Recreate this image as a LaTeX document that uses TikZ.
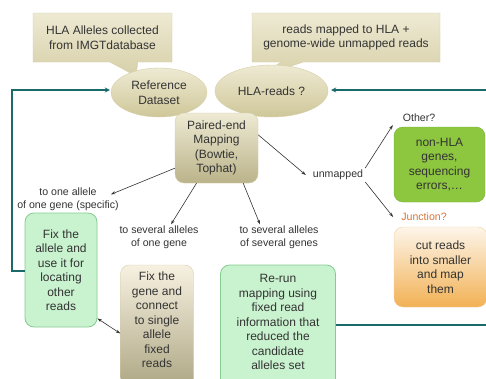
\documentclass[tikz,border=0pt]{standalone}
\usepackage{fontspec}
\setmainfont{Liberation Sans}
\usetikzlibrary{shapes.geometric,shapes.callouts,arrows.meta,calc}
\definecolor{txt}{HTML}{333333}
\definecolor{tanT}{HTML}{EEEAD3}
\definecolor{tanB}{HTML}{CFC799}
\definecolor{tanE}{HTML}{D6CFA8}
\definecolor{grF}{HTML}{C9F2CF}
\definecolor{grE}{HTML}{85CC90}
\definecolor{lime}{HTML}{8DC63F}
\definecolor{limeE}{HTML}{76B030}
\definecolor{orT}{HTML}{FDF5EA}
\definecolor{orB}{HTML}{F2B154}
\definecolor{orE}{HTML}{F3D3A4}
\definecolor{teal}{HTML}{1B6A6A}
\definecolor{junc}{HTML}{D9763A}
\tikzset{
  big/.style={font=\fontsize{12}{14.5}\selectfont, text=txt, align=center},
  lab/.style={font=\fontsize{10.6}{13}\selectfont, text=txt, align=center, inner sep=0pt},
  callbox/.style={rectangle callout, big, draw=tanE, top color=tanT, bottom color=tanB!85, minimum width=139pt, minimum height=49pt, callout pointer width=28pt},
  ell/.style={ellipse, big, draw=tanE, top color=tanT, bottom color=tanB, inner sep=0pt},
  greenbox/.style={rounded corners=9pt, draw=grE, fill=grF, big, line width=0.8pt},
  arr/.style={draw=txt, line width=0.6pt, -{Stealth[length=4.5pt,width=3pt]}},
  tealline/.style={draw=teal, line width=2.4pt},
}
\begin{document}
\begin{tikzpicture}[x=1pt,y=-1pt]
\clip (0,0) rectangle (486,378);
\fill[white] (0,0) rectangle (486,378);
% callouts
\node[callbox, callout absolute pointer={(136,76)}] (hla) at (102.5,37.5) {HLA Alleles collected\\from IMGTdatabase};
\node[callbox, minimum width=188pt, callout absolute pointer={(257,78)}, callout pointer width=22pt] (rmap) at (346,37.5) {reads mapped to HLA +\\genome-wide unmapped reads};
% ellipses
\node[ell, minimum width=96pt, minimum height=49pt] (ref) at (159,92.5) {Reference\\Dataset};
\node[ell, minimum width=113pt, minimum height=52pt] (hlr) at (271.5,91) {HLA-reads ?};
% paired-end
\node[rounded corners=9pt, draw=tanE, top color=tanT, bottom color=tanB!90!black, big, minimum width=83pt, minimum height=70pt] (pe) at (216.5,148) {Paired-end\\Mapping\\(Bowtie,\\Tophat)};
% labels
\node[lab] (one) at (68,199.5) {to one allele\\of one gene (specific)};
\node[lab] (sev1) at (159,237) {to several alleles\\of one gene};
\node[lab] (sev2) at (279,237) {to several alleles\\of several genes};
\node[lab] (unm) at (338,175) {unmapped};
\node[lab] (oth) at (419,118) {Other?};
\node[lab, text=junc] (jun) at (424,217) {Junction?};
% right boxes
\node[rounded corners=9pt, draw=limeE, fill=lime, big, minimum width=91pt, minimum height=75pt] (nonhla) at (439.5,164.5) {non-HLA\\genes,\\sequencing\\errors,\dots};
\node[rounded corners=9pt, draw=orE, top color=orT, bottom color=orB, big, minimum width=93pt, minimum height=80pt] (cut) at (440.5,267) {cut reads\\into smaller\\and map\\them};
% bottom boxes
\node[greenbox, minimum width=72pt, minimum height=114pt] (fixal) at (61,270) {Fix the\\allele and\\use it for\\locating\\other\\reads};
\node[rounded corners=9pt, draw=tanE, top color=orT!60!tanT, bottom color=tanB!80!black, minimum width=73pt, minimum height=135pt] (fixgene) at (157,332.5) {};
\node[big] (fixgenet) at (157,320) {Fix the\\gene and\\connect\\to single\\allele\\fixed\\reads};
\node[greenbox, minimum width=115pt, minimum height=135pt] (rerun) at (278,332.5) {};
\node[big] (reruntext) at (278,322) {Re-run\\mapping using\\fixed read\\information that\\reduced the\\candidate\\alleles set};
% arrows from paired-end
\draw[arr] ([yshift=15pt]pe.south west) -- ([xshift=-8pt,yshift=-6.5pt]one.north east);
\draw[arr] ([xshift=-20pt]pe.south) -- ([xshift=12pt,yshift=1pt]sev1.north);
\draw[arr] ([xshift=-15pt]pe.south east) -- ([xshift=-19pt,yshift=1pt]sev2.north);
\draw[arr] ([yshift=-22pt]pe.north east) -- ([xshift=-7pt]unm.west);
\draw[arr] ([xshift=2pt,yshift=7pt]unm.east) -- ([xshift=-1pt,yshift=-3pt]nonhla.west |- oth.south);
\draw[arr] ([xshift=2pt,yshift=-7pt]unm.east) -- ([xshift=-8pt]jun.west);
\draw[draw=txt, line width=0.6pt, {Stealth[length=4.5pt,width=3pt]}-{Stealth[length=4.5pt,width=3pt]}] ([yshift=9pt]fixal.south east) -- ([yshift=-1pt]fixgene.west);
% teal loops
\coordinate (lb) at (12,271);
\coordinate (lt) at (12,90);
\draw[tealline, -{Stealth[length=5pt,width=5pt]}] (fixal.west |- lb) -- (lb) -- (lt) -- ([xshift=-1pt]lt -| ref.west);
\coordinate (rb) at (492,325);
\coordinate (rt) at (492,90);
\draw[tealline, -{Stealth[length=5pt,width=5pt]}] (rerun.east |- rb) -- (rb) -- (rt) -- ([xshift=3pt]rt -| hlr.east);
\end{tikzpicture}
\end{document}
